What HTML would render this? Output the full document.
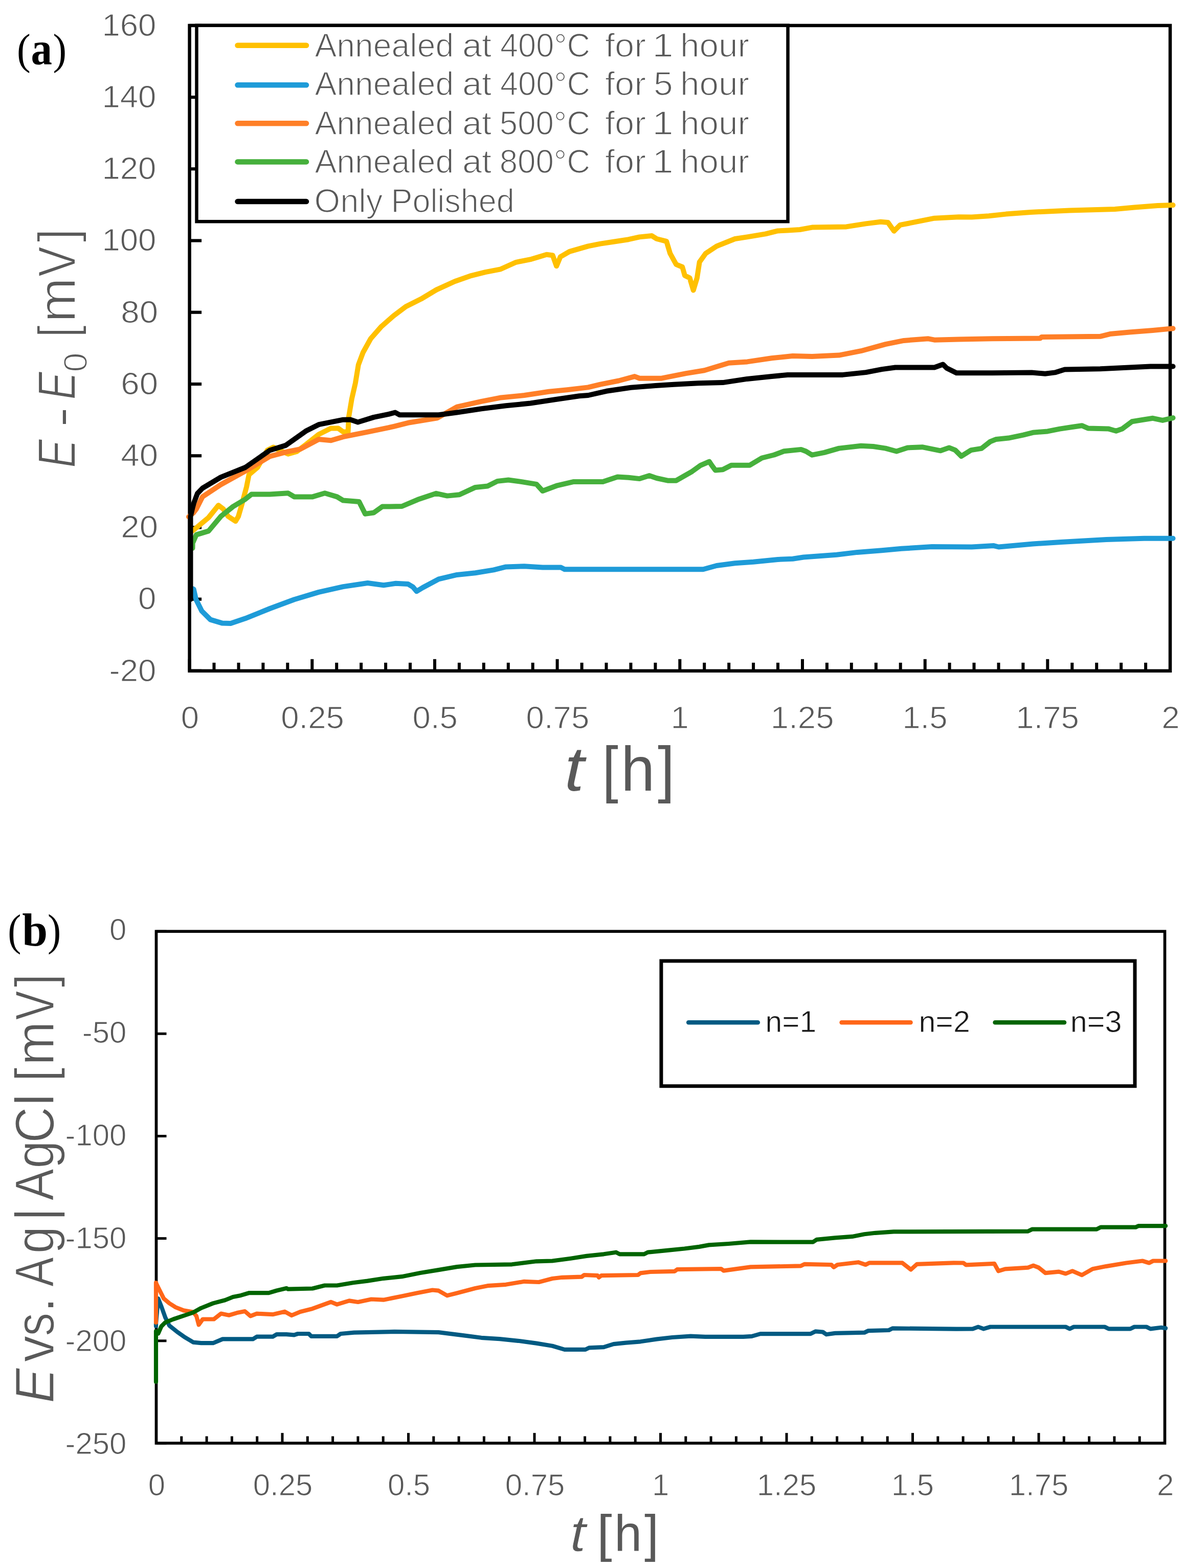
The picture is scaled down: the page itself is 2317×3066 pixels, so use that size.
<!DOCTYPE html>
<html><head><meta charset="utf-8"><title>Figure</title>
<style>html,body{margin:0;padding:0;background:#fff;overflow:hidden;} svg{display:block;} text{white-space:pre;}</style>
</head><body>
<svg width="2317" height="3066" viewBox="0 0 2317 3066">
<rect width="2317" height="3066" fill="#fff"/>
<g fill="none">
<rect x="370.6" y="49.9" width="1917.4" height="1261.9" stroke="#000" stroke-width="6.5"/>
<line x1="370.6" y1="1311.8" x2="394.1" y2="1311.8" stroke="#000" stroke-width="6.2"/>
<line x1="370.6" y1="1171.6" x2="394.1" y2="1171.6" stroke="#000" stroke-width="6.2"/>
<line x1="370.6" y1="1031.4" x2="394.1" y2="1031.4" stroke="#000" stroke-width="6.2"/>
<line x1="370.6" y1="891.2" x2="394.1" y2="891.2" stroke="#000" stroke-width="6.2"/>
<line x1="370.6" y1="751.0" x2="394.1" y2="751.0" stroke="#000" stroke-width="6.2"/>
<line x1="370.6" y1="610.7" x2="394.1" y2="610.7" stroke="#000" stroke-width="6.2"/>
<line x1="370.6" y1="470.5" x2="394.1" y2="470.5" stroke="#000" stroke-width="6.2"/>
<line x1="370.6" y1="330.3" x2="394.1" y2="330.3" stroke="#000" stroke-width="6.2"/>
<line x1="370.6" y1="190.1" x2="394.1" y2="190.1" stroke="#000" stroke-width="6.2"/>
<line x1="370.6" y1="49.9" x2="394.1" y2="49.9" stroke="#000" stroke-width="6.2"/>
<line x1="370.6" y1="1311.8" x2="370.6" y2="1288.8" stroke="#000" stroke-width="6"/>
<line x1="418.5" y1="1311.8" x2="418.5" y2="1295.8" stroke="#000" stroke-width="6"/>
<line x1="466.5" y1="1311.8" x2="466.5" y2="1295.8" stroke="#000" stroke-width="6"/>
<line x1="514.4" y1="1311.8" x2="514.4" y2="1295.8" stroke="#000" stroke-width="6"/>
<line x1="562.3" y1="1311.8" x2="562.3" y2="1295.8" stroke="#000" stroke-width="6"/>
<line x1="610.3" y1="1311.8" x2="610.3" y2="1288.8" stroke="#000" stroke-width="6"/>
<line x1="658.2" y1="1311.8" x2="658.2" y2="1295.8" stroke="#000" stroke-width="6"/>
<line x1="706.1" y1="1311.8" x2="706.1" y2="1295.8" stroke="#000" stroke-width="6"/>
<line x1="754.1" y1="1311.8" x2="754.1" y2="1295.8" stroke="#000" stroke-width="6"/>
<line x1="802.0" y1="1311.8" x2="802.0" y2="1295.8" stroke="#000" stroke-width="6"/>
<line x1="850.0" y1="1311.8" x2="850.0" y2="1288.8" stroke="#000" stroke-width="6"/>
<line x1="897.9" y1="1311.8" x2="897.9" y2="1295.8" stroke="#000" stroke-width="6"/>
<line x1="945.8" y1="1311.8" x2="945.8" y2="1295.8" stroke="#000" stroke-width="6"/>
<line x1="993.8" y1="1311.8" x2="993.8" y2="1295.8" stroke="#000" stroke-width="6"/>
<line x1="1041.7" y1="1311.8" x2="1041.7" y2="1295.8" stroke="#000" stroke-width="6"/>
<line x1="1089.6" y1="1311.8" x2="1089.6" y2="1288.8" stroke="#000" stroke-width="6"/>
<line x1="1137.6" y1="1311.8" x2="1137.6" y2="1295.8" stroke="#000" stroke-width="6"/>
<line x1="1185.5" y1="1311.8" x2="1185.5" y2="1295.8" stroke="#000" stroke-width="6"/>
<line x1="1233.4" y1="1311.8" x2="1233.4" y2="1295.8" stroke="#000" stroke-width="6"/>
<line x1="1281.4" y1="1311.8" x2="1281.4" y2="1295.8" stroke="#000" stroke-width="6"/>
<line x1="1329.3" y1="1311.8" x2="1329.3" y2="1288.8" stroke="#000" stroke-width="6"/>
<line x1="1377.2" y1="1311.8" x2="1377.2" y2="1295.8" stroke="#000" stroke-width="6"/>
<line x1="1425.2" y1="1311.8" x2="1425.2" y2="1295.8" stroke="#000" stroke-width="6"/>
<line x1="1473.1" y1="1311.8" x2="1473.1" y2="1295.8" stroke="#000" stroke-width="6"/>
<line x1="1521.0" y1="1311.8" x2="1521.0" y2="1295.8" stroke="#000" stroke-width="6"/>
<line x1="1569.0" y1="1311.8" x2="1569.0" y2="1288.8" stroke="#000" stroke-width="6"/>
<line x1="1616.9" y1="1311.8" x2="1616.9" y2="1295.8" stroke="#000" stroke-width="6"/>
<line x1="1664.8" y1="1311.8" x2="1664.8" y2="1295.8" stroke="#000" stroke-width="6"/>
<line x1="1712.8" y1="1311.8" x2="1712.8" y2="1295.8" stroke="#000" stroke-width="6"/>
<line x1="1760.7" y1="1311.8" x2="1760.7" y2="1295.8" stroke="#000" stroke-width="6"/>
<line x1="1808.7" y1="1311.8" x2="1808.7" y2="1288.8" stroke="#000" stroke-width="6"/>
<line x1="1856.6" y1="1311.8" x2="1856.6" y2="1295.8" stroke="#000" stroke-width="6"/>
<line x1="1904.5" y1="1311.8" x2="1904.5" y2="1295.8" stroke="#000" stroke-width="6"/>
<line x1="1952.5" y1="1311.8" x2="1952.5" y2="1295.8" stroke="#000" stroke-width="6"/>
<line x1="2000.4" y1="1311.8" x2="2000.4" y2="1295.8" stroke="#000" stroke-width="6"/>
<line x1="2048.3" y1="1311.8" x2="2048.3" y2="1288.8" stroke="#000" stroke-width="6"/>
<line x1="2096.3" y1="1311.8" x2="2096.3" y2="1295.8" stroke="#000" stroke-width="6"/>
<line x1="2144.2" y1="1311.8" x2="2144.2" y2="1295.8" stroke="#000" stroke-width="6"/>
<line x1="2192.1" y1="1311.8" x2="2192.1" y2="1295.8" stroke="#000" stroke-width="6"/>
<line x1="2240.1" y1="1311.8" x2="2240.1" y2="1295.8" stroke="#000" stroke-width="6"/>
<line x1="2288.0" y1="1311.8" x2="2288.0" y2="1288.8" stroke="#000" stroke-width="6"/>
</g>
<g fill="none" stroke-linejoin="round" stroke-linecap="round" stroke-width="10">
<polyline points="373.0,1040.0 379.1,1036.0 407.8,1012.0 427.0,988.1 436.6,995.3 446.1,1009.7 460.5,1019.2 466.0,1010.0 472.4,988.1 482.0,952.2 486.8,928.3 503.5,914.0 522.7,880.5 534.6,874.5 546.6,880.5 563.3,887.7 580.1,882.9 599.2,868.5 623.2,849.4 647.1,837.4 661.4,837.4 671.0,844.6 680.6,844.6 681.8,815.9 687.8,780.0 694.9,749.0 700.8,713.2 709.8,689.2 724.8,662.3 745.7,638.4 769.6,617.5 793.5,599.5 823.4,584.6 853.3,566.6 889.2,550.2 919.1,539.7 949.0,532.2 978.9,526.3 1008.9,512.8 1038.8,506.8 1068.7,497.8 1080.6,499.3 1088.1,520.3 1095.6,502.3 1113.5,491.9 1150.0,481.4 1173.9,476.6 1197.8,473.0 1229.0,468.2 1250.5,463.4 1274.4,461.0 1284.0,467.0 1303.1,471.8 1310.3,495.7 1322.2,517.2 1334.2,522.0 1339.0,538.8 1348.6,543.5 1355.7,567.5 1362.9,543.5 1367.7,512.4 1379.7,495.7 1401.2,481.3 1437.1,467.0 1461.0,463.4 1496.9,457.4 1520.8,451.4 1540.0,450.5 1563.9,449.0 1587.8,444.6 1654.8,443.4 1693.1,437.4 1721.8,433.8 1736.2,435.0 1748.1,451.8 1760.1,439.8 1779.2,436.2 1803.2,431.4 1827.1,426.7 1874.9,424.3 1900.0,424.6 1933.5,422.2 1967.0,418.6 2014.8,415.0 2091.4,411.4 2179.9,409.0 2218.2,405.5 2263.6,401.9 2293.5,401.1" stroke="#FFC000"/>
<polyline points="374.0,1150.0 378.7,1152.0 383.2,1172.0 394.5,1194.7 411.5,1211.6 434.1,1218.4 450.9,1219.0 479.6,1209.3 527.5,1190.0 575.3,1172.2 623.2,1157.9 671.0,1147.1 718.9,1140.0 750.0,1144.3 773.9,1140.7 797.8,1141.9 807.4,1147.8 814.6,1156.2 826.6,1149.0 857.7,1132.3 893.5,1123.9 929.4,1120.3 965.3,1114.4 989.2,1108.4 1025.1,1107.2 1061.0,1109.6 1096.9,1109.6 1104.0,1113.2 1150.0,1113.2 1374.9,1113.2 1401.2,1106.0 1437.1,1101.2 1473.0,1098.8 1520.8,1094.0 1550.0,1092.8 1571.1,1089.5 1635.7,1084.7 1676.4,1079.9 1724.2,1076.3 1762.5,1072.7 1822.3,1069.1 1900.0,1069.5 1943.1,1067.1 1952.6,1069.5 2019.6,1063.5 2074.6,1059.9 2163.2,1055.1 2237.3,1052.7 2293.5,1052.7" stroke="#1E9BD8"/>
<polyline points="369.0,1010.5 378.0,1003.0 383.9,995.3 395.9,971.4 431.8,947.5 479.6,921.1 527.5,892.4 563.3,882.9 587.3,878.1 623.2,859.0 647.1,861.3 671.0,854.2 718.9,844.6 760.0,836.2 770.0,833.8 797.8,826.8 855.3,817.2 893.5,795.7 941.4,784.9 977.3,777.8 1025.1,773.0 1073.0,765.8 1108.9,762.2 1150.0,757.4 1173.9,751.7 1209.8,744.5 1240.9,736.1 1250.5,739.7 1293.5,739.7 1341.4,730.1 1377.3,724.2 1425.1,709.8 1461.0,707.4 1508.9,700.2 1550.0,696.0 1587.8,697.0 1640.5,694.6 1683.5,686.2 1731.4,673.1 1767.3,665.9 1815.1,662.3 1827.1,664.7 1874.9,663.5 1940.0,662.3 2034.0,661.4 2036.4,659.0 2151.2,657.8 2170.3,653.1 2208.6,649.5 2254.1,645.9 2293.5,642.3" stroke="#FF7F27"/>
<polyline points="376.5,1072.0 376.7,1062.0 383.9,1045.6 407.8,1038.4 431.8,1009.7 455.7,990.5 479.6,976.2 491.6,966.6 527.5,966.6 563.3,964.2 575.3,971.4 611.2,971.4 635.1,964.2 659.0,971.4 671.0,978.6 702.1,981.0 714.1,1004.9 730.8,1002.5 747.6,990.5 760.0,990.5 785.9,990.0 817.0,976.8 852.9,964.8 874.4,969.6 898.3,967.2 929.4,952.9 953.3,950.5 972.5,940.9 994.0,938.5 1020.3,942.1 1049.0,946.9 1061.0,960.0 1089.7,949.3 1120.8,942.1 1178.7,942.1 1207.4,932.5 1229.0,933.7 1250.5,936.1 1269.6,930.1 1284.0,935.0 1305.5,939.7 1322.2,939.7 1353.3,921.8 1370.0,909.8 1386.8,902.6 1391.6,909.8 1398.8,919.4 1413.2,918.2 1429.9,909.8 1465.8,909.8 1489.7,895.5 1513.6,889.5 1532.8,882.3 1566.3,878.9 1575.9,882.5 1587.8,889.7 1611.8,884.9 1640.5,876.6 1683.5,871.8 1707.5,873.0 1731.4,876.6 1752.9,882.5 1774.4,875.4 1803.2,874.2 1839.0,881.3 1855.8,875.4 1867.7,880.1 1879.7,892.1 1898.9,880.1 1919.1,876.9 1935.9,863.7 1947.8,858.9 1971.8,856.6 2000.5,850.6 2019.6,845.8 2048.3,843.4 2072.2,838.6 2096.2,835.0 2115.3,832.2 2127.3,837.4 2167.9,838.6 2182.3,842.7 2194.3,838.6 2213.4,824.3 2234.9,820.7 2254.1,817.8 2273.2,821.9 2293.5,817.1" stroke="#46B03C"/>
<polyline points="372.5,1172.0 372.5,1010.0 376.0,995.0 379.1,983.3 386.0,965.0 395.9,954.6 431.8,933.1 479.6,914.0 527.5,880.5 558.6,870.9 599.2,842.2 623.2,830.2 671.0,820.7 685.0,820.5 699.7,825.5 730.8,815.9 760.0,809.9 772.7,806.5 781.1,811.2 857.7,811.2 893.5,806.5 941.4,799.3 989.2,793.3 1037.1,788.5 1085.0,781.3 1132.8,774.2 1150.0,773.0 1185.9,764.8 1233.7,757.7 1281.6,754.1 1317.5,751.7 1365.3,749.3 1413.2,748.1 1461.0,740.9 1508.9,736.1 1540.0,733.0 1647.7,732.9 1693.1,728.1 1724.2,722.1 1750.5,718.5 1827.1,718.5 1843.8,712.5 1851.0,719.7 1870.1,729.3 1940.0,729.3 2017.2,728.4 2043.5,730.8 2062.7,728.4 2081.8,722.4 2151.2,721.2 2249.3,716.5 2293.5,716.5" stroke="#000000"/>
</g>
<rect x="384.5" y="49.7" width="1156" height="383.5" fill="#fff" stroke="#000" stroke-width="6.5"/>
<line x1="464.5" y1="88.7" x2="599" y2="88.7" stroke="#FFC000" stroke-width="10.5" stroke-linecap="round"/>
<text transform="translate(615.44,110.60) scale(0.9893,1)" font-family="'Liberation Sans', Arial, sans-serif" font-size="65" fill="#595959" stroke="#fff" stroke-width="1.6">Annealed</text>
<text transform="translate(903.88,110.60) scale(1.0578,1)" font-family="'Liberation Sans', Arial, sans-serif" font-size="65" fill="#595959" stroke="#fff" stroke-width="1.6">at</text>
<text transform="translate(977.98,110.60) scale(0.9710,1)" font-family="'Liberation Sans', Arial, sans-serif" font-size="65" fill="#595959" stroke="#fff" stroke-width="1.6">400°C</text>
<text transform="translate(1182.97,110.60) scale(1.0549,1)" font-family="'Liberation Sans', Arial, sans-serif" font-size="65" fill="#595959" stroke="#fff" stroke-width="1.6">for</text>
<text transform="translate(1275.22,110.60) scale(1.1454,1)" font-family="'Liberation Sans', Arial, sans-serif" font-size="65" fill="#595959" stroke="#fff" stroke-width="1.6">1</text>
<text transform="translate(1329.98,110.60) scale(1.0372,1)" font-family="'Liberation Sans', Arial, sans-serif" font-size="65" fill="#595959" stroke="#fff" stroke-width="1.6">hour</text>
<line x1="464.5" y1="166.3" x2="599" y2="166.3" stroke="#1E9BD8" stroke-width="10.5" stroke-linecap="round"/>
<text transform="translate(615.44,185.80) scale(0.9893,1)" font-family="'Liberation Sans', Arial, sans-serif" font-size="65" fill="#595959" stroke="#fff" stroke-width="1.6">Annealed</text>
<text transform="translate(903.88,185.80) scale(1.0578,1)" font-family="'Liberation Sans', Arial, sans-serif" font-size="65" fill="#595959" stroke="#fff" stroke-width="1.6">at</text>
<text transform="translate(977.98,185.80) scale(0.9710,1)" font-family="'Liberation Sans', Arial, sans-serif" font-size="65" fill="#595959" stroke="#fff" stroke-width="1.6">400°C</text>
<text transform="translate(1182.97,185.80) scale(1.0549,1)" font-family="'Liberation Sans', Arial, sans-serif" font-size="65" fill="#595959" stroke="#fff" stroke-width="1.6">for</text>
<text transform="translate(1278.09,185.80) scale(1.0429,1)" font-family="'Liberation Sans', Arial, sans-serif" font-size="65" fill="#595959" stroke="#fff" stroke-width="1.6">5</text>
<text transform="translate(1329.98,185.80) scale(1.0372,1)" font-family="'Liberation Sans', Arial, sans-serif" font-size="65" fill="#595959" stroke="#fff" stroke-width="1.6">hour</text>
<line x1="464.5" y1="241.3" x2="599" y2="241.3" stroke="#FF7F27" stroke-width="10.5" stroke-linecap="round"/>
<text transform="translate(615.44,262.70) scale(0.9893,1)" font-family="'Liberation Sans', Arial, sans-serif" font-size="65" fill="#595959" stroke="#fff" stroke-width="1.6">Annealed</text>
<text transform="translate(903.88,262.70) scale(1.0578,1)" font-family="'Liberation Sans', Arial, sans-serif" font-size="65" fill="#595959" stroke="#fff" stroke-width="1.6">at</text>
<text transform="translate(976.86,262.70) scale(0.9772,1)" font-family="'Liberation Sans', Arial, sans-serif" font-size="65" fill="#595959" stroke="#fff" stroke-width="1.6">500°C</text>
<text transform="translate(1182.97,262.70) scale(1.0549,1)" font-family="'Liberation Sans', Arial, sans-serif" font-size="65" fill="#595959" stroke="#fff" stroke-width="1.6">for</text>
<text transform="translate(1275.22,262.70) scale(1.1454,1)" font-family="'Liberation Sans', Arial, sans-serif" font-size="65" fill="#595959" stroke="#fff" stroke-width="1.6">1</text>
<text transform="translate(1329.98,262.70) scale(1.0372,1)" font-family="'Liberation Sans', Arial, sans-serif" font-size="65" fill="#595959" stroke="#fff" stroke-width="1.6">hour</text>
<line x1="464.5" y1="316.4" x2="599" y2="316.4" stroke="#46B03C" stroke-width="10.5" stroke-linecap="round"/>
<text transform="translate(615.44,338.20) scale(0.9893,1)" font-family="'Liberation Sans', Arial, sans-serif" font-size="65" fill="#595959" stroke="#fff" stroke-width="1.6">Annealed</text>
<text transform="translate(903.88,338.20) scale(1.0578,1)" font-family="'Liberation Sans', Arial, sans-serif" font-size="65" fill="#595959" stroke="#fff" stroke-width="1.6">at</text>
<text transform="translate(976.70,338.20) scale(0.9781,1)" font-family="'Liberation Sans', Arial, sans-serif" font-size="65" fill="#595959" stroke="#fff" stroke-width="1.6">800°C</text>
<text transform="translate(1182.97,338.20) scale(1.0549,1)" font-family="'Liberation Sans', Arial, sans-serif" font-size="65" fill="#595959" stroke="#fff" stroke-width="1.6">for</text>
<text transform="translate(1275.22,338.20) scale(1.1454,1)" font-family="'Liberation Sans', Arial, sans-serif" font-size="65" fill="#595959" stroke="#fff" stroke-width="1.6">1</text>
<text transform="translate(1329.98,338.20) scale(1.0372,1)" font-family="'Liberation Sans', Arial, sans-serif" font-size="65" fill="#595959" stroke="#fff" stroke-width="1.6">hour</text>
<line x1="464.5" y1="394.1" x2="599" y2="394.1" stroke="#000000" stroke-width="10.5" stroke-linecap="round"/>
<text transform="translate(614.51,415.10) scale(1.0021,1)" font-family="'Liberation Sans', Arial, sans-serif" font-size="65" fill="#595959" stroke="#fff" stroke-width="1.6">Only</text>
<text transform="translate(764.41,415.10) scale(0.9685,1)" font-family="'Liberation Sans', Arial, sans-serif" font-size="65" fill="#595959" stroke="#fff" stroke-width="1.6">Polished</text>
<text transform="translate(213.55,1331.60) scale(1.0300,1)" font-family="'Liberation Sans', Arial, sans-serif" font-size="61.7" fill="#595959" stroke="#fff" stroke-width="1.1">-20</text>
<text transform="translate(270.11,1191.39) scale(1.0300,1)" font-family="'Liberation Sans', Arial, sans-serif" font-size="61.7" fill="#595959" stroke="#fff" stroke-width="1.1">0</text>
<text transform="translate(236.36,1051.18) scale(1.0600,1)" font-family="'Liberation Sans', Arial, sans-serif" font-size="61.7" fill="#595959" stroke="#fff" stroke-width="1.1">20</text>
<text transform="translate(236.36,910.97) scale(1.0600,1)" font-family="'Liberation Sans', Arial, sans-serif" font-size="61.7" fill="#595959" stroke="#fff" stroke-width="1.1">40</text>
<text transform="translate(236.36,770.76) scale(1.0600,1)" font-family="'Liberation Sans', Arial, sans-serif" font-size="61.7" fill="#595959" stroke="#fff" stroke-width="1.1">60</text>
<text transform="translate(236.36,630.54) scale(1.0600,1)" font-family="'Liberation Sans', Arial, sans-serif" font-size="61.7" fill="#595959" stroke="#fff" stroke-width="1.1">80</text>
<text transform="translate(199.41,490.33) scale(1.0300,1)" font-family="'Liberation Sans', Arial, sans-serif" font-size="61.7" fill="#595959" stroke="#fff" stroke-width="1.1">100</text>
<text transform="translate(199.41,350.12) scale(1.0300,1)" font-family="'Liberation Sans', Arial, sans-serif" font-size="61.7" fill="#595959" stroke="#fff" stroke-width="1.1">120</text>
<text transform="translate(199.41,209.91) scale(1.0300,1)" font-family="'Liberation Sans', Arial, sans-serif" font-size="61.7" fill="#595959" stroke="#fff" stroke-width="1.1">140</text>
<text transform="translate(199.41,69.70) scale(1.0300,1)" font-family="'Liberation Sans', Arial, sans-serif" font-size="61.7" fill="#595959" stroke="#fff" stroke-width="1.1">160</text>
<text transform="translate(353.69,1424.20) scale(1.0300,1)" font-family="'Liberation Sans', Arial, sans-serif" font-size="61.7" fill="#595959" stroke="#fff" stroke-width="1.1">0</text>
<text transform="translate(549.27,1424.20) scale(1.0300,1)" font-family="'Liberation Sans', Arial, sans-serif" font-size="61.7" fill="#595959" stroke="#fff" stroke-width="1.1">0.25</text>
<text transform="translate(806.58,1424.20) scale(1.0300,1)" font-family="'Liberation Sans', Arial, sans-serif" font-size="61.7" fill="#595959" stroke="#fff" stroke-width="1.1">0.5</text>
<text transform="translate(1028.62,1424.20) scale(1.0300,1)" font-family="'Liberation Sans', Arial, sans-serif" font-size="61.7" fill="#595959" stroke="#fff" stroke-width="1.1">0.75</text>
<text transform="translate(1311.59,1424.20) scale(1.0300,1)" font-family="'Liberation Sans', Arial, sans-serif" font-size="61.7" fill="#595959" stroke="#fff" stroke-width="1.1">1</text>
<text transform="translate(1506.86,1424.20) scale(1.0300,1)" font-family="'Liberation Sans', Arial, sans-serif" font-size="61.7" fill="#595959" stroke="#fff" stroke-width="1.1">1.25</text>
<text transform="translate(1764.17,1424.20) scale(1.0300,1)" font-family="'Liberation Sans', Arial, sans-serif" font-size="61.7" fill="#595959" stroke="#fff" stroke-width="1.1">1.5</text>
<text transform="translate(1986.21,1424.20) scale(1.0300,1)" font-family="'Liberation Sans', Arial, sans-serif" font-size="61.7" fill="#595959" stroke="#fff" stroke-width="1.1">1.75</text>
<text transform="translate(2271.16,1424.20) scale(1.0300,1)" font-family="'Liberation Sans', Arial, sans-serif" font-size="61.7" fill="#595959" stroke="#fff" stroke-width="1.1">2</text>
<text transform="translate(1103.78,1546.00) scale(1.1338,1)" font-family="'Liberation Sans', Arial, sans-serif" font-style="italic" font-size="122" fill="#595959">t</text>
<text transform="translate(1177.49,1546.00) scale(0.9262,1)" font-family="'Liberation Sans', Arial, sans-serif" font-size="122" fill="#595959">[</text>
<text transform="translate(1214.18,1546.00) scale(0.9739,1)" font-family="'Liberation Sans', Arial, sans-serif" font-size="122" fill="#595959">h</text>
<text transform="translate(1286.10,1546.00) scale(0.9836,1)" font-family="'Liberation Sans', Arial, sans-serif" font-size="122" fill="#595959">]</text>
<text transform="translate(146.70,912.50) rotate(-90) translate(-2.53,0.00) scale(0.8093,1)" font-family="'Liberation Sans', Arial, sans-serif" font-style="italic" font-size="104" fill="#595959" stroke="#fff" stroke-width="2">E</text>
<text transform="translate(146.70,912.50) rotate(-90) translate(77.10,7.00) scale(1.1538,1)" font-family="'Liberation Sans', Arial, sans-serif" font-size="104" fill="#595959" stroke="#fff" stroke-width="2">-</text>
<text transform="translate(146.70,912.50) rotate(-90) translate(131.04,0.00) scale(0.7871,1)" font-family="'Liberation Sans', Arial, sans-serif" font-style="italic" font-size="104" fill="#595959" stroke="#fff" stroke-width="2">E</text>
<text transform="translate(146.70,912.50) rotate(-90) translate(184.74,23.10) scale(1.0551,1)" font-family="'Liberation Sans', Arial, sans-serif" font-size="65.5" fill="#595959" stroke="#fff" stroke-width="2">0</text>
<text transform="translate(146.70,912.50) rotate(-90) translate(252.89,0.00) scale(0.8125,1)" font-family="'Liberation Sans', Arial, sans-serif" font-size="104" fill="#595959" stroke="#fff" stroke-width="2">[</text>
<text transform="translate(146.70,912.50) rotate(-90) translate(282.22,0.00) scale(1.0082,1)" font-family="'Liberation Sans', Arial, sans-serif" font-size="104" fill="#595959" stroke="#fff" stroke-width="2">m</text>
<text transform="translate(146.70,912.50) rotate(-90) translate(371.35,0.00) scale(0.8584,1)" font-family="'Liberation Sans', Arial, sans-serif" font-size="104" fill="#595959" stroke="#fff" stroke-width="2">V</text>
<text transform="translate(146.70,912.50) rotate(-90) translate(438.78,0.00) scale(0.9279,1)" font-family="'Liberation Sans', Arial, sans-serif" font-size="104" fill="#595959" stroke="#fff" stroke-width="2">]</text>
<text transform="translate(33.08,124.50) scale(0.9457,1)" font-family="'Liberation Serif', 'Times New Roman', serif" font-size="85" fill="#000">(</text>
<text transform="translate(60.51,126.00) scale(0.9208,1)" font-family="'Liberation Serif', 'Times New Roman', serif" font-weight="bold" font-size="90" fill="#000">a</text>
<text transform="translate(103.40,124.50) scale(0.9412,1)" font-family="'Liberation Serif', 'Times New Roman', serif" font-size="85" fill="#000">)</text>
<g fill="none">
<rect x="305.5" y="1821.2" width="1972.0" height="1000.7" stroke="#000" stroke-width="5.7"/>
<line x1="305.5" y1="1821.2" x2="325.5" y2="1821.2" stroke="#000" stroke-width="5"/>
<line x1="305.5" y1="2021.3" x2="325.5" y2="2021.3" stroke="#000" stroke-width="5"/>
<line x1="305.5" y1="2221.5" x2="325.5" y2="2221.5" stroke="#000" stroke-width="5"/>
<line x1="305.5" y1="2421.6" x2="325.5" y2="2421.6" stroke="#000" stroke-width="5"/>
<line x1="305.5" y1="2621.8" x2="325.5" y2="2621.8" stroke="#000" stroke-width="5"/>
<line x1="305.5" y1="2821.9" x2="325.5" y2="2821.9" stroke="#000" stroke-width="5"/>
<line x1="305.5" y1="2821.9" x2="305.5" y2="2801.9" stroke="#000" stroke-width="5"/>
<line x1="354.8" y1="2821.9" x2="354.8" y2="2808.4" stroke="#000" stroke-width="5"/>
<line x1="404.1" y1="2821.9" x2="404.1" y2="2808.4" stroke="#000" stroke-width="5"/>
<line x1="453.4" y1="2821.9" x2="453.4" y2="2808.4" stroke="#000" stroke-width="5"/>
<line x1="502.7" y1="2821.9" x2="502.7" y2="2808.4" stroke="#000" stroke-width="5"/>
<line x1="552.0" y1="2821.9" x2="552.0" y2="2801.9" stroke="#000" stroke-width="5"/>
<line x1="601.3" y1="2821.9" x2="601.3" y2="2808.4" stroke="#000" stroke-width="5"/>
<line x1="650.6" y1="2821.9" x2="650.6" y2="2808.4" stroke="#000" stroke-width="5"/>
<line x1="699.9" y1="2821.9" x2="699.9" y2="2808.4" stroke="#000" stroke-width="5"/>
<line x1="749.2" y1="2821.9" x2="749.2" y2="2808.4" stroke="#000" stroke-width="5"/>
<line x1="798.5" y1="2821.9" x2="798.5" y2="2801.9" stroke="#000" stroke-width="5"/>
<line x1="847.8" y1="2821.9" x2="847.8" y2="2808.4" stroke="#000" stroke-width="5"/>
<line x1="897.1" y1="2821.9" x2="897.1" y2="2808.4" stroke="#000" stroke-width="5"/>
<line x1="946.4" y1="2821.9" x2="946.4" y2="2808.4" stroke="#000" stroke-width="5"/>
<line x1="995.7" y1="2821.9" x2="995.7" y2="2808.4" stroke="#000" stroke-width="5"/>
<line x1="1045.0" y1="2821.9" x2="1045.0" y2="2801.9" stroke="#000" stroke-width="5"/>
<line x1="1094.3" y1="2821.9" x2="1094.3" y2="2808.4" stroke="#000" stroke-width="5"/>
<line x1="1143.6" y1="2821.9" x2="1143.6" y2="2808.4" stroke="#000" stroke-width="5"/>
<line x1="1192.9" y1="2821.9" x2="1192.9" y2="2808.4" stroke="#000" stroke-width="5"/>
<line x1="1242.2" y1="2821.9" x2="1242.2" y2="2808.4" stroke="#000" stroke-width="5"/>
<line x1="1291.5" y1="2821.9" x2="1291.5" y2="2801.9" stroke="#000" stroke-width="5"/>
<line x1="1340.8" y1="2821.9" x2="1340.8" y2="2808.4" stroke="#000" stroke-width="5"/>
<line x1="1390.1" y1="2821.9" x2="1390.1" y2="2808.4" stroke="#000" stroke-width="5"/>
<line x1="1439.4" y1="2821.9" x2="1439.4" y2="2808.4" stroke="#000" stroke-width="5"/>
<line x1="1488.7" y1="2821.9" x2="1488.7" y2="2808.4" stroke="#000" stroke-width="5"/>
<line x1="1538.0" y1="2821.9" x2="1538.0" y2="2801.9" stroke="#000" stroke-width="5"/>
<line x1="1587.3" y1="2821.9" x2="1587.3" y2="2808.4" stroke="#000" stroke-width="5"/>
<line x1="1636.6" y1="2821.9" x2="1636.6" y2="2808.4" stroke="#000" stroke-width="5"/>
<line x1="1685.9" y1="2821.9" x2="1685.9" y2="2808.4" stroke="#000" stroke-width="5"/>
<line x1="1735.2" y1="2821.9" x2="1735.2" y2="2808.4" stroke="#000" stroke-width="5"/>
<line x1="1784.5" y1="2821.9" x2="1784.5" y2="2801.9" stroke="#000" stroke-width="5"/>
<line x1="1833.8" y1="2821.9" x2="1833.8" y2="2808.4" stroke="#000" stroke-width="5"/>
<line x1="1883.1" y1="2821.9" x2="1883.1" y2="2808.4" stroke="#000" stroke-width="5"/>
<line x1="1932.4" y1="2821.9" x2="1932.4" y2="2808.4" stroke="#000" stroke-width="5"/>
<line x1="1981.7" y1="2821.9" x2="1981.7" y2="2808.4" stroke="#000" stroke-width="5"/>
<line x1="2031.0" y1="2821.9" x2="2031.0" y2="2801.9" stroke="#000" stroke-width="5"/>
<line x1="2080.3" y1="2821.9" x2="2080.3" y2="2808.4" stroke="#000" stroke-width="5"/>
<line x1="2129.6" y1="2821.9" x2="2129.6" y2="2808.4" stroke="#000" stroke-width="5"/>
<line x1="2178.9" y1="2821.9" x2="2178.9" y2="2808.4" stroke="#000" stroke-width="5"/>
<line x1="2228.2" y1="2821.9" x2="2228.2" y2="2808.4" stroke="#000" stroke-width="5"/>
<line x1="2277.5" y1="2821.9" x2="2277.5" y2="2801.9" stroke="#000" stroke-width="5"/>
</g>
<g fill="none" stroke-linejoin="round" stroke-linecap="round" stroke-width="8.2">
<polyline points="305.0,2593.0 305.0,2588.0 309.3,2539.1 315.5,2554.6 323.3,2576.4 331.1,2592.0 346.6,2604.4 362.2,2615.3 377.7,2624.6 393.3,2626.2 416.6,2626.2 435.3,2618.4 494.4,2618.4 502.1,2613.7 533.2,2613.7 541.0,2609.1 560.0,2609.1 575.1,2610.4 582.3,2608.0 603.8,2608.0 608.6,2612.8 658.9,2612.8 666.0,2608.0 692.3,2605.6 771.3,2603.9 857.5,2605.1 905.3,2611.1 941.2,2615.8 977.1,2618.2 1013.0,2621.8 1048.9,2626.6 1080.0,2631.7 1103.9,2638.9 1144.6,2638.9 1151.8,2635.3 1180.5,2634.1 1199.6,2628.1 1223.5,2625.7 1252.2,2623.3 1283.3,2618.6 1314.4,2615.0 1350.3,2612.6 1379.0,2613.8 1453.2,2613.8 1470.0,2612.9 1486.7,2608.1 1584.8,2608.1 1594.4,2603.3 1608.8,2604.5 1615.9,2609.3 1632.7,2606.9 1690.1,2605.7 1697.3,2602.2 1737.9,2601.0 1745.1,2597.4 1870.0,2598.6 1902.1,2598.4 1912.6,2594.5 1923.2,2598.4 1936.3,2594.5 2083.7,2594.5 2091.6,2598.4 2099.5,2594.5 2160.0,2594.5 2167.9,2598.4 2210.0,2598.4 2217.9,2594.5 2241.6,2594.5 2249.5,2598.4 2270.5,2595.8 2279.0,2597.1" stroke="#005A82"/>
<polyline points="305.0,2586.0 305.0,2508.0 306.2,2511.1 312.4,2523.5 320.2,2539.1 331.1,2548.4 343.5,2556.2 359.1,2562.4 377.7,2565.5 384.0,2573.3 388.6,2590.4 396.4,2579.5 418.2,2579.5 432.2,2568.6 447.7,2571.7 463.3,2567.1 478.8,2564.0 489.7,2573.3 502.1,2568.6 533.2,2570.2 556.6,2564.7 570.3,2572.1 587.1,2564.9 611.0,2558.9 646.9,2545.8 658.9,2550.6 682.8,2543.4 700.0,2546.0 725.9,2540.5 749.8,2541.7 785.7,2534.5 814.4,2528.5 845.5,2522.5 857.5,2523.7 874.2,2533.3 893.3,2528.5 929.2,2519.0 953.2,2514.2 989.0,2511.8 1024.9,2505.8 1053.6,2507.0 1080.0,2500.0 1099.1,2497.8 1137.4,2496.6 1142.2,2493.0 1168.5,2494.2 1170.9,2497.8 1175.7,2494.2 1247.5,2493.0 1252.2,2489.4 1271.4,2487.0 1319.2,2485.8 1324.0,2482.2 1410.1,2481.0 1414.9,2484.6 1467.6,2477.4 1565.7,2475.4 1572.9,2471.8 1625.5,2473.0 1630.3,2477.8 1637.5,2473.0 1678.1,2468.2 1692.5,2473.0 1699.7,2469.4 1764.3,2469.4 1781.0,2482.5 1793.0,2471.8 1828.9,2470.6 1864.7,2469.4 1883.7,2469.5 1888.9,2473.4 1944.2,2470.8 1952.1,2485.3 1965.3,2481.3 2010.0,2478.7 2020.5,2474.7 2031.0,2478.7 2044.2,2489.2 2070.5,2486.6 2083.7,2490.5 2096.8,2485.3 2115.3,2493.2 2136.3,2481.3 2162.6,2476.1 2202.1,2469.5 2233.7,2465.5 2246.8,2469.5 2254.7,2465.5 2279.0,2465.5" stroke="#FF6618"/>
<polyline points="305.0,2702.0 305.0,2603.0 309.3,2607.5 315.5,2593.5 323.3,2585.7 338.9,2579.5 362.2,2571.7 377.7,2566.3 393.3,2557.7 416.6,2548.4 440.0,2542.2 455.5,2536.0 471.0,2532.9 486.6,2528.2 525.5,2528.2 541.0,2523.5 560.0,2518.9 563.2,2520.7 611.0,2519.5 634.9,2513.5 658.9,2513.5 690.0,2508.2 718.7,2504.6 749.8,2499.8 785.7,2496.2 821.6,2489.0 857.5,2483.1 893.3,2477.1 929.2,2473.5 1001.0,2472.3 1048.9,2466.3 1080.0,2465.5 1115.9,2460.7 1147.0,2455.9 1180.5,2452.3 1204.4,2448.7 1211.6,2452.3 1259.4,2452.3 1266.6,2448.7 1302.5,2445.1 1338.4,2441.5 1367.1,2437.9 1386.2,2434.4 1424.5,2432.0 1467.6,2428.4 1589.6,2428.7 1596.8,2423.9 1632.7,2420.3 1666.2,2417.9 1690.1,2413.2 1711.6,2410.8 1747.5,2408.4 2010.0,2407.6 2017.9,2403.7 2144.2,2403.7 2152.1,2399.7 2220.5,2399.7 2225.8,2397.1 2279.0,2397.1" stroke="#006400"/>
</g>
<rect x="1292.9" y="1879" width="926.1" height="244.7" fill="#fff" stroke="#000" stroke-width="7"/>
<line x1="1346.2" y1="1999.2" x2="1481.8" y2="1999.2" stroke="#005A82" stroke-width="8.5" stroke-linecap="round"/>
<text transform="translate(1496.54,2017.80) scale(0.9789,1)" font-family="'Liberation Sans', Arial, sans-serif" font-size="60" fill="#1a1a1a" stroke="#fff" stroke-width="0.8">n=1</text>
<line x1="1645.6" y1="1999.2" x2="1780.5" y2="1999.2" stroke="#FF6618" stroke-width="8.5" stroke-linecap="round"/>
<text transform="translate(1796.40,2017.80) scale(0.9868,1)" font-family="'Liberation Sans', Arial, sans-serif" font-size="60" fill="#1a1a1a" stroke="#fff" stroke-width="0.8">n=2</text>
<line x1="1945.6" y1="1999.2" x2="2081" y2="1999.2" stroke="#006400" stroke-width="8.5" stroke-linecap="round"/>
<text transform="translate(2092.80,2017.80) scale(0.9884,1)" font-family="'Liberation Sans', Arial, sans-serif" font-size="60" fill="#1a1a1a" stroke="#fff" stroke-width="0.8">n=3</text>
<text transform="translate(214.01,1838.10) scale(1.0150,1)" font-family="'Liberation Sans', Arial, sans-serif" font-size="59" fill="#595959" stroke="#fff" stroke-width="1.0">0</text>
<text transform="translate(160.71,2039.05) scale(1.0150,1)" font-family="'Liberation Sans', Arial, sans-serif" font-size="59" fill="#595959" stroke="#fff" stroke-width="1.0">-50</text>
<text transform="translate(127.48,2240.00) scale(1.0150,1)" font-family="'Liberation Sans', Arial, sans-serif" font-size="59" fill="#595959" stroke="#fff" stroke-width="1.0">-100</text>
<text transform="translate(127.48,2440.95) scale(1.0150,1)" font-family="'Liberation Sans', Arial, sans-serif" font-size="59" fill="#595959" stroke="#fff" stroke-width="1.0">-150</text>
<text transform="translate(127.48,2641.90) scale(1.0150,1)" font-family="'Liberation Sans', Arial, sans-serif" font-size="59" fill="#595959" stroke="#fff" stroke-width="1.0">-200</text>
<text transform="translate(127.48,2842.85) scale(1.0150,1)" font-family="'Liberation Sans', Arial, sans-serif" font-size="59" fill="#595959" stroke="#fff" stroke-width="1.0">-250</text>
<text transform="translate(289.81,2924.00) scale(1.0150,1)" font-family="'Liberation Sans', Arial, sans-serif" font-size="59" fill="#595959" stroke="#fff" stroke-width="1.0">0</text>
<text transform="translate(494.76,2924.00) scale(1.0150,1)" font-family="'Liberation Sans', Arial, sans-serif" font-size="59" fill="#595959" stroke="#fff" stroke-width="1.0">0.25</text>
<text transform="translate(757.88,2924.00) scale(1.0150,1)" font-family="'Liberation Sans', Arial, sans-serif" font-size="59" fill="#595959" stroke="#fff" stroke-width="1.0">0.5</text>
<text transform="translate(987.76,2924.00) scale(1.0150,1)" font-family="'Liberation Sans', Arial, sans-serif" font-size="59" fill="#595959" stroke="#fff" stroke-width="1.0">0.75</text>
<text transform="translate(1275.06,2924.00) scale(1.0150,1)" font-family="'Liberation Sans', Arial, sans-serif" font-size="59" fill="#595959" stroke="#fff" stroke-width="1.0">1</text>
<text transform="translate(1479.71,2924.00) scale(1.0150,1)" font-family="'Liberation Sans', Arial, sans-serif" font-size="59" fill="#595959" stroke="#fff" stroke-width="1.0">1.25</text>
<text transform="translate(1742.83,2924.00) scale(1.0150,1)" font-family="'Liberation Sans', Arial, sans-serif" font-size="59" fill="#595959" stroke="#fff" stroke-width="1.0">1.5</text>
<text transform="translate(1972.71,2924.00) scale(1.0150,1)" font-family="'Liberation Sans', Arial, sans-serif" font-size="59" fill="#595959" stroke="#fff" stroke-width="1.0">1.75</text>
<text transform="translate(2261.88,2924.00) scale(1.0150,1)" font-family="'Liberation Sans', Arial, sans-serif" font-size="59" fill="#595959" stroke="#fff" stroke-width="1.0">2</text>
<text transform="translate(1114.57,3033.00) scale(1.1067,1)" font-family="'Liberation Sans', Arial, sans-serif" font-style="italic" font-size="101" fill="#595959" stroke="#fff" stroke-width="1.0">t</text>
<text transform="translate(1167.11,3033.00) scale(1.0594,1)" font-family="'Liberation Sans', Arial, sans-serif" font-size="101" fill="#595959">[</text>
<text transform="translate(1201.24,3033.00) scale(0.9561,1)" font-family="'Liberation Sans', Arial, sans-serif" font-size="101" fill="#595959">h</text>
<text transform="translate(1260.04,3033.00)" font-family="'Liberation Sans', Arial, sans-serif" font-size="101" fill="#595959">]</text>
<text transform="translate(104.50,2740.60) rotate(-90) translate(-3.08,0.00) scale(0.9495,1)" font-family="'Liberation Sans', Arial, sans-serif" font-style="italic" font-size="108" fill="#595959" stroke="#fff" stroke-width="1.5">E</text>
<text transform="translate(104.50,2740.60) rotate(-90) translate(77.24,0.00) scale(0.9521,1)" font-family="'Liberation Sans', Arial, sans-serif" font-size="108" fill="#595959" stroke="#fff" stroke-width="1.5">v</text>
<text transform="translate(104.50,2740.60) rotate(-90) translate(128.09,0.00) scale(0.8444,1)" font-family="'Liberation Sans', Arial, sans-serif" font-size="108" fill="#595959" stroke="#fff" stroke-width="1.5">s</text>
<text transform="translate(104.50,2740.60) rotate(-90) translate(174.08,0.00) scale(1.0000,1)" font-family="'Liberation Sans', Arial, sans-serif" font-size="108" fill="#595959" stroke="#fff" stroke-width="1.5">.</text>
<text transform="translate(104.50,2740.60) rotate(-90) translate(224.48,0.00) scale(0.8050,1)" font-family="'Liberation Sans', Arial, sans-serif" font-size="108" fill="#595959" stroke="#fff" stroke-width="1.5">A</text>
<text transform="translate(104.50,2740.60) rotate(-90) translate(289.32,0.00) scale(0.8889,1)" font-family="'Liberation Sans', Arial, sans-serif" font-size="108" fill="#595959" stroke="#fff" stroke-width="1.5">g</text>
<text transform="translate(104.50,2740.60) rotate(-90) translate(351.78,0.00) scale(1.0000,1)" font-family="'Liberation Sans', Arial, sans-serif" font-size="108" fill="#595959" stroke="#fff" stroke-width="1.5">|</text>
<text transform="translate(104.50,2740.60) rotate(-90) translate(393.17,0.00) scale(0.8665,1)" font-family="'Liberation Sans', Arial, sans-serif" font-size="108" fill="#595959" stroke="#fff" stroke-width="1.5">A</text>
<text transform="translate(104.50,2740.60) rotate(-90) translate(455.73,0.00) scale(0.9095,1)" font-family="'Liberation Sans', Arial, sans-serif" font-size="108" fill="#595959" stroke="#fff" stroke-width="1.5">g</text>
<text transform="translate(104.50,2740.60) rotate(-90) translate(505.92,0.00) scale(0.9041,1)" font-family="'Liberation Sans', Arial, sans-serif" font-size="108" fill="#595959" stroke="#fff" stroke-width="1.5">C</text>
<text transform="translate(104.50,2740.60) rotate(-90) translate(578.11,0.00) scale(1.0000,1)" font-family="'Liberation Sans', Arial, sans-serif" font-size="108" fill="#595959" stroke="#fff" stroke-width="1.5">l</text>
<text transform="translate(104.50,2740.60) rotate(-90) translate(625.60,0.00) scale(0.9259,1)" font-family="'Liberation Sans', Arial, sans-serif" font-size="108" fill="#595959" stroke="#fff" stroke-width="1.5">[</text>
<text transform="translate(104.50,2740.60) rotate(-90) translate(657.66,0.00) scale(0.9524,1)" font-family="'Liberation Sans', Arial, sans-serif" font-size="108" fill="#595959" stroke="#fff" stroke-width="1.5">m</text>
<text transform="translate(104.50,2740.60) rotate(-90) translate(746.17,0.00) scale(0.7943,1)" font-family="'Liberation Sans', Arial, sans-serif" font-size="108" fill="#595959" stroke="#fff" stroke-width="1.5">V</text>
<text transform="translate(104.50,2740.60) rotate(-90) translate(810.09,0.00) scale(0.8704,1)" font-family="'Liberation Sans', Arial, sans-serif" font-size="108" fill="#595959" stroke="#fff" stroke-width="1.5">]</text>
<text transform="translate(15.37,1847.60) scale(0.9154,1)" font-family="'Liberation Serif', 'Times New Roman', serif" font-size="85.7" fill="#000">(</text>
<text transform="translate(43.18,1848.60) scale(0.9972,1)" font-family="'Liberation Serif', 'Times New Roman', serif" font-weight="bold" font-size="90" fill="#000">b</text>
<text transform="translate(93.04,1847.60) scale(0.9199,1)" font-family="'Liberation Serif', 'Times New Roman', serif" font-size="85.7" fill="#000">)</text>
</svg>
</body></html>
